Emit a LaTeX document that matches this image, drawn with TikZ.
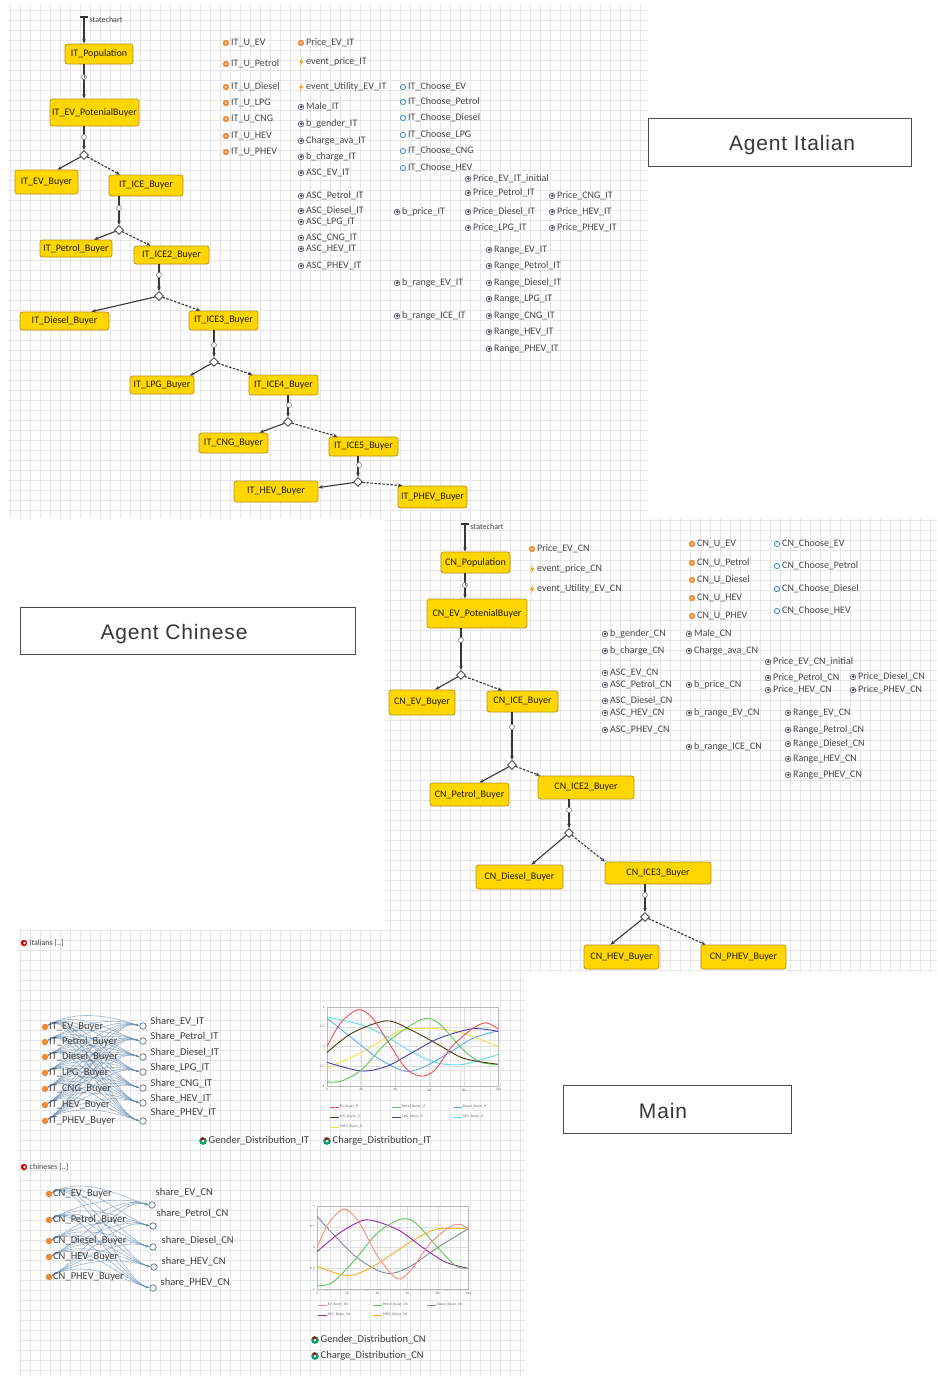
\documentclass[tikz,border=0pt]{standalone}
\usepackage{fontspec}
\setmainfont{Carlito}
\newfontfamily\titlefont[LetterSpace=4]{Liberation Sans}
\usetikzlibrary{arrows.meta,shapes.geometric,calc}

\definecolor{styellow}{RGB}{255,214,0}
\definecolor{stedge}{RGB}{185,145,20}
\definecolor{gridc}{RGB}{230,230,232}
\definecolor{dynor}{RGB}{238,140,55}
\definecolor{fnblue}{RGB}{70,145,210}
\definecolor{pargray}{RGB}{95,105,115}
\definecolor{linkc}{RGB}{105,140,175}
\definecolor{cRed}{RGB}{235,80,90}
\definecolor{cGreen}{RGB}{90,200,90}
\definecolor{cLBlue}{RGB}{100,170,235}
\definecolor{cBrown}{RGB}{75,60,20}
\definecolor{cPurple}{RGB}{70,60,170}
\definecolor{cCyan}{RGB}{90,225,235}
\definecolor{cYellow}{RGB}{245,225,70}
\definecolor{cSalmon}{RGB}{245,140,120}
\definecolor{cSlate}{RGB}{130,140,160}
\definecolor{cViolet}{RGB}{150,40,170}
\definecolor{cOrange}{RGB}{250,175,40}

\tikzset{
  st/.style={draw=stedge, fill=styellow, rounded corners=2.5pt, line width=0.7pt,
    inner sep=1pt, font=\fontsize{10}{11}\selectfont, text=black!88},
  tr/.style={draw=black!78, line width=1.1pt, -{Stealth[length=4.5pt,width=3.5pt]}},
  trd/.style={tr, dash pattern=on 2.5pt off 1.5pt},
  br/.style={diamond, draw=black!80, fill=white, line width=0.7pt, minimum size=9pt, inner sep=0pt},
  gd/.style={circle, draw=black!55, fill=white, line width=0.5pt, minimum size=5pt, inner sep=0pt},
  var/.style={anchor=west, inner sep=0.5pt, font=\fontsize{10}{11}\selectfont, text=black!72},
  mtext/.style={anchor=west, inner sep=0.5pt, font=\fontsize{10.5}{11}\selectfont, text=black!75},
  sctext/.style={anchor=west, inner sep=0.5pt, font=\fontsize{8}{9}\selectfont, text=black!75},
  tick/.style={inner sep=0.5pt, font=\fontsize{3.5}{4}\selectfont, text=black!60},
  leg/.style={anchor=west, inner sep=0.5pt, font=\fontsize{3.6}{4}\selectfont, text=black!60},
  ttlbox/.style={draw=black!70, line width=0.9pt, fill=white},
  ttl/.style={inner sep=0pt, font=\titlefont\fontsize{21}{23}\selectfont, text=black!78},
  link/.style={draw=linkc, opacity=0.6, line width=0.65pt, -{Latex[length=3pt,width=2.2pt]}},
  sharec/.style={circle, draw=linkc!80!black, fill=white, line width=0.7pt, minimum size=6.5pt, inner sep=0pt},
  buyic/.style={circle, fill=dynor, minimum size=6.5pt, inner sep=0pt},
  dynic/.pic={\fill[dynor] (0,0) circle (3.2); \fill[white!55!dynor] (0,0) circle (1.3);},
  paric/.pic={\draw[pargray, line width=0.7pt] (0,0) circle (2.8); \fill[pargray!60!black] (0.3,-0.3) circle (1.4);},
  fnic/.pic={\draw[fnblue, line width=0.9pt, fill=white] (0,0) circle (2.6);},
  evic/.pic={\fill[orange!80!yellow] (1.6,-5) -- (-2,0.7) -- (0.3,0.5) -- (-1.3,5) -- (2.3,-0.9) -- (0,-0.7) -- cycle;},
  popic/.pic={\fill[red!80!black] (0,0) circle (3.2); \fill[white] (0.5,0) circle (1.3);},
  distic/.pic={\fill[teal!80!green] (0,0) circle (3.8); \fill[white] (0,0) circle (1.7); \fill[red!75!black] (-1,-4) -- (2.1,-1.2) -- (-2.5,-0.6) -- cycle;}
}

% variable: icon type, x, y, node name, text
\newcommand\vitem[5]{\pic at (#2,#3) {#1}; \node[var] (#4) at ({#2+4.5},#3) {#5};}
% editor canvas with its grid: left, top, right, bottom
\newcommand\canvas[4]{\fill[white] (#1,#2) rectangle (#3,#4);
  \draw[gridc, line width=0.4pt, step=10pt] (#1,#4) grid (#3,#2);}

\begin{document}
\begin{tikzpicture}[x=1pt,y=-1pt]
\useasboundingbox (0,0) rectangle (937,1376);
\fill[white] (0,0) rectangle (937,1376);

% ---------- editor canvases ----------
\canvas{8}{5}{648}{518}
\canvas{18}{930}{525}{1376}
\canvas{385}{518}{937}{972}

% ---------- titles ----------
\node[ttlbox, minimum width=263pt, minimum height=48pt] (tIT) at (779.5,142) {};
\node[ttl] (tITt) at (792,145) {Agent Italian};
\node[ttlbox, minimum width=335pt, minimum height=47pt] (tCN) at (187.5,630.5) {};
\node[ttl] (tCNt) at (174,634) {Agent Chinese};
\node[ttlbox, minimum width=228pt, minimum height=48pt] (tMain) at (677,1109) {};
\node[ttl] (tMaint) at (663,1111) {Main};

% ---------- statechart of the Italian agent ----------
\coordinate (itEntry) at (84,17);
\draw[line width=1.3pt, black!80] (80,17) -- (88,17);
\node[sctext] (itSC) at (89,20) {statechart};

\node[st, minimum width=68pt, minimum height=20pt] (itPop) at (99,54) {IT\_Population};
\node[st, minimum width=89pt, minimum height=27pt] (itPot) at (94.5,112.5) {IT\_EV\_PotenialBuyer};
\node[st, minimum width=63pt, minimum height=24pt] (itEV) at (46.5,182) {IT\_EV\_Buyer};
\node[st, minimum width=74pt, minimum height=21pt] (itICE) at (146,185.5) {IT\_ICE\_Buyer};
\node[st, minimum width=72pt, minimum height=17pt] (itPet) at (76,248.5) {IT\_Petrol\_Buyer};
\node[st, minimum width=75pt, minimum height=18pt] (itICE2) at (171.5,255) {IT\_ICE2\_Buyer};
\node[st, minimum width=89pt, minimum height=18pt] (itDie) at (64.5,321) {IT\_Diesel\_Buyer};
\node[st, minimum width=69pt, minimum height=19pt] (itICE3) at (223.5,320.5) {IT\_ICE3\_Buyer};
\node[st, minimum width=64pt, minimum height=18pt] (itLPG) at (162,385) {IT\_LPG\_Buyer};
\node[st, minimum width=69pt, minimum height=20pt] (itICE4) at (283.5,385) {IT\_ICE4\_Buyer};
\node[st, minimum width=69pt, minimum height=20pt] (itCNG) at (233.5,443) {IT\_CNG\_Buyer};
\node[st, minimum width=69pt, minimum height=19pt] (itICE5) at (363.5,446.5) {IT\_ICE5\_Buyer};
\node[st, minimum width=84pt, minimum height=21pt] (itHEV) at (276,491.5) {IT\_HEV\_Buyer};
\node[st, minimum width=69pt, minimum height=22pt] (itPHEV) at (432.5,497) {IT\_PHEV\_Buyer};

\node[br] (itB1) at (84,155) {};
\node[br] (itB2) at (119,230) {};
\node[br] (itB3) at (159,296) {};
\node[br] (itB4) at (214,362) {};
\node[br] (itB5) at (288,422) {};
\node[br] (itB6) at (358,482) {};

\draw[tr] (itEntry) -- (itEntry |- itPop.north);
\draw[tr] (itPop.south -| itEntry) -- (itPot.north -| itEntry);
\node[gd] (itTm) at (84,77) {};
\draw[black!60, line width=0.4pt] (itTm.center) -- ++(0,-1.6) (itTm.center) -- ++(1.4,0);

\draw[tr] (itPot.south -| itB1) -- (itB1);
\draw[tr] (itICE.south -| itB2) -- (itB2);
\draw[tr] (itICE2.south -| itB3) -- (itB3);
\draw[tr] (itICE3.south -| itB4) -- (itB4);
\draw[tr] (itICE4.south -| itB5) -- (itB5);
\draw[tr] (itICE5.south -| itB6) -- (itB6);
\node[gd] (itG1) at (84,137) {};
\node[gd] (itG2) at (119,208) {};
\node[gd] (itG3) at (159,275) {};
\node[gd] (itG4) at (214,345) {};
\node[gd] (itG5) at (289,405) {};
\node[gd] (itG6) at (359,465) {};

\draw[tr] (itB1) -- ($(itEV.north)+(11,0)$);
\draw[trd] (itB1) -- ($(itICE.north)+(-26,0)$);
\draw[tr] (itB2) -- ($(itPet.north)+(18,0)$);
\draw[trd] (itB2) -- ($(itICE2.north)+(-21,0)$);
\draw[tr] (itB3) -- ($(itDie.north)+(27,0)$);
\draw[trd] (itB3) -- ($(itICE3.north)+(-23,0)$);
\draw[tr] (itB4) -- ($(itLPG.north)+(28,0)$);
\draw[trd] (itB4) -- ($(itICE4.north)+(-31,0)$);
\draw[tr] (itB5) -- ($(itCNG.north)+(26,0)$);
\draw[trd] (itB5) -- ($(itICE5.north)+(-26,0)$);
\draw[tr] (itB6) -- ($(itHEV.east)+(0,-4)$);
\draw[trd] (itB6) -- ($(itPHEV.north)+(-30,0)$);

% ---------- variables of the Italian agent ----------
\vitem{dynic}{226}{43}{iv1}{IT\_U\_EV}
\vitem{dynic}{226}{64}{iv2}{IT\_U\_Petrol}
\vitem{dynic}{226}{87}{iv3}{IT\_U\_Diesel}
\vitem{dynic}{226}{103}{iv4}{IT\_U\_LPG}
\vitem{dynic}{226}{119}{iv5}{IT\_U\_CNG}
\vitem{dynic}{226}{136}{iv6}{IT\_U\_HEV}
\vitem{dynic}{226}{152}{iv7}{IT\_U\_PHEV}

\vitem{dynic}{301}{43}{iv8}{Price\_EV\_IT}
\vitem{evic}{301}{62}{iv9}{event\_price\_IT}
\vitem{evic}{301}{87}{iv10}{event\_Utility\_EV\_IT}
\vitem{paric}{301}{107}{iv11}{Male\_IT}
\vitem{paric}{301}{124}{iv12}{b\_gender\_IT}
\vitem{paric}{301}{141}{iv13}{Charge\_ava\_IT}
\vitem{paric}{301}{157}{iv14}{b\_charge\_IT}
\vitem{paric}{301}{173}{iv15}{ASC\_EV\_IT}
\vitem{paric}{301}{196}{iv16}{ASC\_Petrol\_IT}
\vitem{paric}{301}{211}{iv17}{ASC\_Diesel\_IT}
\vitem{paric}{301}{222}{iv18}{ASC\_LPG\_IT}
\vitem{paric}{301}{238}{iv19}{ASC\_CNG\_IT}
\vitem{paric}{301}{249}{iv20}{ASC\_HEV\_IT}
\vitem{paric}{301}{266}{iv21}{ASC\_PHEV\_IT}

\vitem{fnic}{403}{87}{iv22}{IT\_Choose\_EV}
\vitem{fnic}{403}{102}{iv23}{IT\_Choose\_Petrol}
\vitem{fnic}{403}{118}{iv24}{IT\_Choose\_Diesel}
\vitem{fnic}{403}{135}{iv25}{IT\_Choose\_LPG}
\vitem{fnic}{403}{151}{iv26}{IT\_Choose\_CNG}
\vitem{fnic}{403}{168}{iv27}{IT\_Choose\_HEV}

\vitem{paric}{397}{212}{iv28}{b\_price\_IT}
\vitem{paric}{468}{179}{iv29}{Price\_EV\_IT\_initial}
\vitem{paric}{468}{193}{iv30}{Price\_Petrol\_IT}
\vitem{paric}{468}{212}{iv31}{Price\_Diesel\_IT}
\vitem{paric}{468}{228}{iv32}{Price\_LPG\_IT}
\vitem{paric}{552}{196}{iv33}{Price\_CNG\_IT}
\vitem{paric}{552}{212}{iv34}{Price\_HEV\_IT}
\vitem{paric}{552}{228}{iv35}{Price\_PHEV\_IT}
\vitem{paric}{489}{250}{iv36}{Range\_EV\_IT}
\vitem{paric}{489}{266}{iv37}{Range\_Petrol\_IT}
\vitem{paric}{489}{283}{iv38}{Range\_Diesel\_IT}
\vitem{paric}{489}{299}{iv39}{Range\_LPG\_IT}
\vitem{paric}{489}{316}{iv40}{Range\_CNG\_IT}
\vitem{paric}{489}{332}{iv41}{Range\_HEV\_IT}
\vitem{paric}{489}{349}{iv42}{Range\_PHEV\_IT}
\vitem{paric}{397}{283}{iv43}{b\_range\_EV\_IT}
\vitem{paric}{397}{316}{iv44}{b\_range\_ICE\_IT}

% ---------- statechart of the Chinese agent ----------
\coordinate (cnEntry) at (465,524);
\draw[line width=1.3pt, black!80] (461,524) -- (469,524);
\node[sctext] (cnSC) at (470,527) {statechart};

\node[st, minimum width=69pt, minimum height=21pt] (cnPop) at (475.5,562.5) {CN\_Population};
\node[st, minimum width=100pt, minimum height=29pt] (cnPot) at (477,613.5) {CN\_EV\_PotenialBuyer};
\node[st, minimum width=66pt, minimum height=25pt] (cnEV) at (422,702.5) {CN\_EV\_Buyer};
\node[st, minimum width=71pt, minimum height=21pt] (cnICE) at (522.5,701.5) {CN\_ICE\_Buyer};
\node[st, minimum width=79pt, minimum height=23pt] (cnPet) at (469.5,794.5) {CN\_Petrol\_Buyer};
\node[st, minimum width=96pt, minimum height=23pt] (cnICE2) at (586,787.5) {CN\_ICE2\_Buyer};
\node[st, minimum width=87pt, minimum height=24pt] (cnDie) at (519.5,877) {CN\_Diesel\_Buyer};
\node[st, minimum width=106pt, minimum height=22pt] (cnICE3) at (658,873) {CN\_ICE3\_Buyer};
\node[st, minimum width=75pt, minimum height=24pt] (cnHEV) at (621.5,957) {CN\_HEV\_Buyer};
\node[st, minimum width=85pt, minimum height=24pt] (cnPHEV) at (743.5,957) {CN\_PHEV\_Buyer};

\node[br] (cnB1) at (461,675) {};
\node[br] (cnB2) at (512,765) {};
\node[br] (cnB3) at (569,833) {};
\node[br] (cnB4) at (645,917) {};

\draw[tr] (cnEntry) -- (cnEntry |- cnPop.north);
\draw[tr] (cnPop.south -| cnEntry) -- (cnPot.north -| cnEntry);
\node[gd] (cnTm) at (465,585) {};
\draw[black!60, line width=0.4pt] (cnTm.center) -- ++(0,-1.6) (cnTm.center) -- ++(1.4,0);

\draw[tr] (cnPot.south -| cnB1) -- (cnB1);
\draw[tr] (cnICE.south -| cnB2) -- (cnB2);
\draw[tr] (cnICE2.south -| cnB3) -- (cnB3);
\draw[tr] (cnICE3.south -| cnB4) -- (cnB4);
\node[gd] (cnG1) at (461,640) {};
\node[gd] (cnG2) at (512,727) {};
\node[gd] (cnG3) at (569,810) {};
\node[gd] (cnG4) at (645,895) {};

\draw[tr] (cnB1) -- ($(cnEV.north)+(13,0)$);
\draw[trd] (cnB1) -- ($(cnICE.north)+(-20,0)$);
\draw[tr] (cnB2) -- ($(cnPet.north)+(10,0)$);
\draw[trd] (cnB2) -- ($(cnICE2.north)+(-46,0)$);
\draw[tr] (cnB3) -- ($(cnDie.north)+(12,0)$);
\draw[trd] (cnB3) -- ($(cnICE3.north)+(-53,0)$);
\draw[tr] (cnB4) -- ($(cnHEV.north)+(-11,0)$);
\draw[trd] (cnB4) -- ($(cnPHEV.north)+(-38,0)$);

% ---------- variables of the Chinese agent ----------
\vitem{dynic}{532}{549}{cv1}{Price\_EV\_CN}
\vitem{evic}{532}{569}{cv2}{event\_price\_CN}
\vitem{evic}{532}{589}{cv3}{event\_Utility\_EV\_CN}
\vitem{dynic}{692}{544}{cv4}{CN\_U\_EV}
\vitem{dynic}{692}{563}{cv5}{CN\_U\_Petrol}
\vitem{dynic}{692}{580}{cv6}{CN\_U\_Diesel}
\vitem{dynic}{692}{598}{cv7}{CN\_U\_HEV}
\vitem{dynic}{692}{616}{cv8}{CN\_U\_PHEV}
\vitem{fnic}{777}{544}{cv9}{CN\_Choose\_EV}
\vitem{fnic}{777}{566}{cv10}{CN\_Choose\_Petrol}
\vitem{fnic}{777}{589}{cv11}{CN\_Choose\_Diesel}
\vitem{fnic}{777}{611}{cv12}{CN\_Choose\_HEV}
\vitem{paric}{605}{634}{cv13}{b\_gender\_CN}
\vitem{paric}{605}{651}{cv14}{b\_charge\_CN}
\vitem{paric}{689}{634}{cv15}{Male\_CN}
\vitem{paric}{689}{651}{cv16}{Charge\_ava\_CN}
\vitem{paric}{768}{662}{cv17}{Price\_EV\_CN\_initial}
\vitem{paric}{605}{673}{cv18}{ASC\_EV\_CN}
\vitem{paric}{605}{685}{cv19}{ASC\_Petrol\_CN}
\vitem{paric}{605}{701}{cv20}{ASC\_Diesel\_CN}
\vitem{paric}{605}{713}{cv21}{ASC\_HEV\_CN}
\vitem{paric}{605}{730}{cv22}{ASC\_PHEV\_CN}
\vitem{paric}{689}{685}{cv23}{b\_price\_CN}
\vitem{paric}{689}{713}{cv24}{b\_range\_EV\_CN}
\vitem{paric}{689}{747}{cv25}{b\_range\_ICE\_CN}
\vitem{paric}{768}{678}{cv26}{Price\_Petrol\_CN}
\vitem{paric}{768}{690}{cv27}{Price\_HEV\_CN}
\vitem{paric}{853}{677}{cv28}{Price\_Diesel\_CN}
\vitem{paric}{853}{690}{cv29}{Price\_PHEV\_CN}
\vitem{paric}{788}{713}{cv30}{Range\_EV\_CN}
\vitem{paric}{788}{730}{cv31}{Range\_Petrol\_CN}
\vitem{paric}{788}{744}{cv32}{Range\_Diesel\_CN}
\vitem{paric}{788}{759}{cv33}{Range\_HEV\_CN}
\vitem{paric}{788}{775}{cv34}{Range\_PHEV\_CN}

% ---------- Main: Italian population ----------
\pic at (24,943) {popic};
\node[sctext] (mIt) at (29,943) {italians [..]};

\foreach \n/\y in {1/1027,2/1042,3/1057,4/1073,5/1089,6/1105,7/1121}
  \node[buyic] (ib\n) at (45,\y) {};
\foreach \n/\y in {1/1026,2/1041,3/1057,4/1072,5/1088,6/1103,7/1121}
  \node[sharec] (is\n) at (143,\y) {};
\foreach \i in {1,...,7}{
  \foreach \j in {1,...,7}{
    \draw[link] (ib\i) .. controls +(30,-18) and +(-28,-10) .. (is\j.west);
  }
}
\foreach \n/\t in {1/IT\_EV\_Buyer,2/IT\_Petrol\_Buyer,3/IT\_Diesel\_Buyer,4/IT\_LPG\_Buyer,5/IT\_CNG\_Buyer,6/IT\_HEV\_Buyer,7/IT\_PHEV\_Buyer}
  \node[mtext] (ibt\n) at (ib\n.east) {\t};
\foreach \n/\y/\t in {1/1022/Share\_EV\_IT,2/1037/Share\_Petrol\_IT,3/1053/Share\_Diesel\_IT,4/1068/Share\_LPG\_IT,5/1084/Share\_CNG\_IT,6/1099/Share\_HEV\_IT,7/1113/Share\_PHEV\_IT}
  \node[mtext] (ist\n) at (150,\y) {\t};

% chart of Italian buyers
\begin{scope}[shift={(327,1046.5)}, x=1.71pt, y=39.5pt]
  \draw[gray!25, line width=0.3pt, xstep=20, ystep=0.5] (0,-1) grid (100,1);
  \draw[gray!55, line width=0.4pt] (0,-1) rectangle (100,1);
  \foreach \v [count=\k] in {-1,-0.5,0,0.5,1} \node[tick, anchor=east] (itY\k) at (-1,\v) {\v};
  \foreach \v [count=\k] in {0,20,40,60,80,100} \node[tick, anchor=north] (itX\k) at (\v,-1.05) {\v};
  \draw[cYellow, line width=0.9pt] plot[smooth] coordinates {(0,-0.55) (20,-0.15) (40,0.35) (50,0.45) (65,0.45) (80,0.33) (100,0)};
  \draw[cCyan, line width=0.9pt] plot[smooth] coordinates {(0,0.75) (20,0.55) (35,0.25) (50,-0.15) (65,-0.42) (80,-0.45) (100,-0.2)};
  \draw[cLBlue, line width=0.9pt] plot[smooth] coordinates {(0,0.72) (15,0.2) (30,-0.3) (45,-0.62) (55,-0.55) (70,-0.2) (85,0.2) (100,0.4)};
  \draw[cPurple, line width=0.9pt] plot[smooth] coordinates {(0,-0.4) (20,-0.62) (35,-0.5) (50,-0.15) (65,0.2) (85,0.45) (100,0.38)};
  \draw[cGreen, line width=0.9pt] plot[smooth] coordinates {(0,-0.9) (8,-0.88) (20,-0.6) (35,0.1) (55,0.68) (65,0.6) (80,-0.1) (90,-0.4) (100,-0.45)};
  \draw[cBrown, line width=0.9pt] plot[smooth] coordinates {(0,-0.15) (15,0.35) (35,0.65) (50,0.4) (65,0.05) (80,-0.3) (100,-0.45)};
  \draw[cRed, line width=0.9pt] plot[smooth] coordinates {(0,0) (8,0.6) (18,0.93) (26,0.75) (36,0.1) (46,-0.55) (55,-0.75) (63,-0.6) (73,0) (85,0.45) (93,0.6) (100,0.45)};
\end{scope}
\foreach \x/\y/\c/\t [count=\k] in {330/1107/cRed/EV\_Buyer\_IT, 392/1107/cGreen/Petrol\_Buyer\_IT, 453/1107/cLBlue/Diesel\_Buyer\_IT,
    330/1117/cBrown/LPG\_Buyer\_IT, 392/1117/cPurple/CNG\_Buyer\_IT, 453/1117/cCyan/HEV\_Buyer\_IT, 330/1127/cYellow/PHEV\_Buyer\_IT}
  \draw[\c, line width=0.9pt] (\x,\y) -- ++(9,0) node[leg] (itL\k) {\t};

\pic at (203,1141) {distic};
\node[mtext] (mGenIT) at (208,1141) {Gender\_Distribution\_IT};
\pic at (327,1141) {distic};
\node[mtext] (mChIT) at (332,1141) {Charge\_Distribution\_IT};

% ---------- Main: Chinese population ----------
\pic at (24,1167) {popic};
\node[sctext] (mCn) at (29,1167) {chineses [..]};

\foreach \n/\y in {1/1194,2/1220,3/1241,4/1257,5/1277}
  \node[buyic] (cb\n) at (49,\y) {};
\foreach \n/\x/\y in {1/152/1205,2/153/1226,3/153/1247,4/154/1267,5/153/1288}
  \node[sharec] (cs\n) at (\x,\y) {};
\foreach \i in {1,...,5}{
  \foreach \j in {1,...,5}{
    \draw[link] (cb\i) .. controls +(35,-18) and +(-30,-10) .. (cs\j.west);
  }
}
\foreach \n/\t in {1/CN\_EV\_Buyer,2/CN\_Petrol\_Buyer,3/CN\_Diesel\_Buyer,4/CN\_HEV\_Buyer,5/CN\_PHEV\_Buyer}
  \node[mtext] (cbt\n) at (cb\n.east) {\t};
\foreach \n/\x/\y/\t in {1/155/1193/share\_EV\_CN,2/156/1214/share\_Petrol\_CN,3/161/1241/share\_Diesel\_CN,4/161/1262/share\_HEV\_CN,5/160/1283/share\_PHEV\_CN}
  \node[mtext] (cst\n) at (\x,\y) {\t};

% chart of Chinese buyers
\begin{scope}[shift={(317,1247.5)}, x=1.51pt, y=41.5pt]
  \draw[gray!25, line width=0.3pt, xstep=20, ystep=0.5] (0,-1) grid (100,1);
  \draw[gray!55, line width=0.4pt] (0,-1) rectangle (100,1);
  \foreach \v [count=\k] in {-1,-0.5,0,0.5,1} \node[tick, anchor=east] (cnY\k) at (-1,\v) {\v};
  \foreach \v [count=\k] in {0,20,40,60,80,100} \node[tick, anchor=north] (cnX\k) at (\v,-1.05) {\v};
  \draw[cSlate, line width=0.9pt] plot[smooth] coordinates {(0,0.75) (10,0.35) (25,-0.2) (40,-0.55) (50,-0.62) (62,-0.45) (80,0) (100,0.45)};
  \draw[cOrange, line width=0.9pt] plot[smooth] coordinates {(0,-0.45) (20,-0.68) (35,-0.5) (50,-0.15) (65,0.2) (80,0.45) (100,0.45)};
  \draw[cViolet, line width=0.9pt] plot[smooth] coordinates {(0,-0.1) (15,0.35) (30,0.65) (40,0.62) (55,0.4) (70,0) (85,-0.35) (100,-0.5)};
  \draw[cGreen, line width=0.9pt] plot[smooth] coordinates {(0,-0.92) (10,-0.85) (25,-0.3) (40,0.35) (55,0.68) (65,0.6) (80,0) (92,-0.45) (100,-0.5)};
  \draw[cSalmon, line width=0.9pt] plot[smooth] coordinates {(0,0) (8,0.6) (18,0.93) (28,0.6) (40,-0.2) (53,-0.75) (62,-0.55) (75,0.1) (88,0.5) (95,0.55) (100,0.45)};
\end{scope}
\foreach \x/\y/\c/\t [count=\k] in {318/1305/cSalmon/EV\_Buyer\_CN, 373/1305/cGreen/Petrol\_Buyer\_CN, 427/1305/cSlate/Diesel\_Buyer\_CN,
    318/1315/cViolet/HEV\_Buyer\_CN, 373/1315/cOrange/PHEV\_Buyer\_CN}
  \draw[\c, line width=0.9pt] (\x,\y) -- ++(9,0) node[leg] (cnL\k) {\t};

\pic at (315,1340) {distic};
\node[mtext] (mGenCN) at (320,1340) {Gender\_Distribution\_CN};
\pic at (315,1356) {distic};
\node[mtext] (mChCN) at (320,1356) {Charge\_Distribution\_CN};
\end{tikzpicture}
\end{document}
